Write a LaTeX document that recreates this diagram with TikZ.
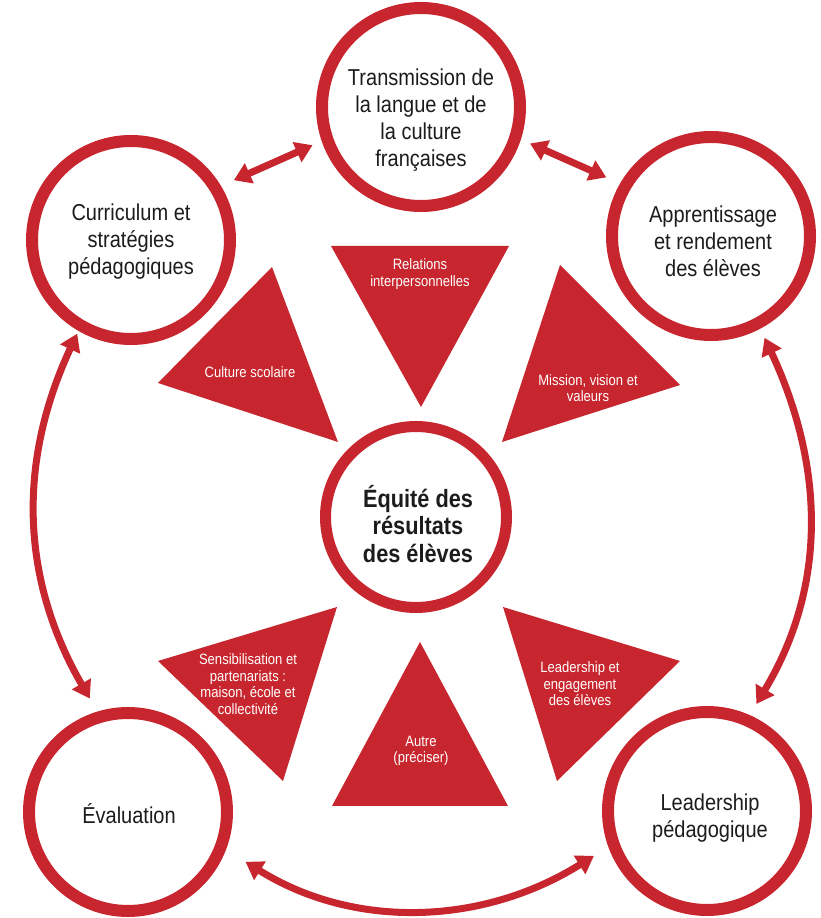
\documentclass[tikz,border=0pt]{standalone}
\usepackage{fontspec}
\setmainfont{Liberation Sans}[FakeStretch=0.87]
\usetikzlibrary{arrows.meta}
\definecolor{cadrered}{RGB}{200,38,46}
\definecolor{cadretext}{RGB}{28,28,28}
\tikzset{
	ring/.style={circle,draw=cadrered,line width=12pt,fill=white,minimum size=198pt,inner sep=0pt},
	hub/.style={ring,minimum size=181pt,line width=11pt},
	ringlabel/.style={align=center,text=cadretext,font=\fontsize{23}{27}\selectfont},
	hublabel/.style={align=center,text=cadretext,font=\bfseries\fontsize{25}{27.5}\selectfont},
	tri/.style={fill=cadrered},
	trilabel/.style={align=center,text=white,font=\fontsize{15}{16.5}\selectfont},
	link/.style={{Triangle[length=17pt,width=21pt]}-{Triangle[length=17pt,width=21pt]},draw=cadrered,line width=7pt}
}
\begin{document}
\begin{tikzpicture}[x=1pt,y=1pt]
	\useasboundingbox (0,0) rectangle (820,918);
	%%%triangles
	\fill[tri] (331,672) -- (509,672) -- (421,511) -- cycle;
	\fill[tri] (272,651) -- (158,535) -- (338,476) -- cycle;
	\fill[tri] (560,653) -- (680,533) -- (502,476) -- cycle;
	\fill[tri] (158,257) -- (337,311) -- (283,137) -- cycle;
	\fill[tri] (503,311) -- (680,257) -- (557,137) -- cycle;
	\fill[tri] (420,276) -- (332,112) -- (508,112) -- cycle;

	\node[trilabel] (rel) at (420,644) {Relations\\interpersonnelles};
	\node[trilabel] (cult) at (250,546) {Culture scolaire};
	\node[trilabel] (miss) at (588,530) {Mission, vision et\\valeurs};
	\node[trilabel] (sens) at (248,234) {Sensibilisation et\\partenariats :\\maison, école et\\collectivité};
	\node[trilabel] (eng) at (580,234) {Leadership et\\engagement\\des élèves};
	\node[trilabel] (autre) at (421,167) {Autre\\(préciser)};

	%%%rings
	\node[ring] (trans) at (421,811) {};
	\node[ring] (curr) at (131,678) {};
	\node[ring] (appr) at (711,682) {};
	\node[ring] (eval) at (128,106) {};
	\node[ring] (lead) at (707,107) {};
	\node[hub] (equi) at (416,401) {};

	\node[ringlabel] at (421,798) {Transmission de\\la langue et de\\la culture\\françaises};
	\node[ringlabel] at (131,676) {Curriculum et\\stratégies\\pédagogiques};
	\node[ringlabel] at (713,677) {Apprentissage\\et rendement\\des élèves};
	\node[ringlabel] at (129,104) {Évaluation};
	\node[ringlabel] at (710,100) {Leadership\\pédagogique};
	\node[hublabel] at (418,394) {Équité des\\résultats\\des élèves};

	%%%links
	\draw[link,shorten <=14pt,shorten >=10pt] (curr.31) -- (trans.199);
	\draw[link,shorten <=10pt,shorten >=15pt] (trans.342) -- (appr.150);
	\draw[link,shorten <=3pt,shorten >=15pt] (curr.240) to[out=245,in=120] (eval.107);
	\draw[link,shorten <=10pt,shorten >=13pt] (appr.298) to[out=295,in=59] (lead.66);
	\draw[link,shorten <=23pt,shorten >=17pt] (eval.339) to[out=-32,in=212] (lead.200);
\end{tikzpicture}
\end{document}
